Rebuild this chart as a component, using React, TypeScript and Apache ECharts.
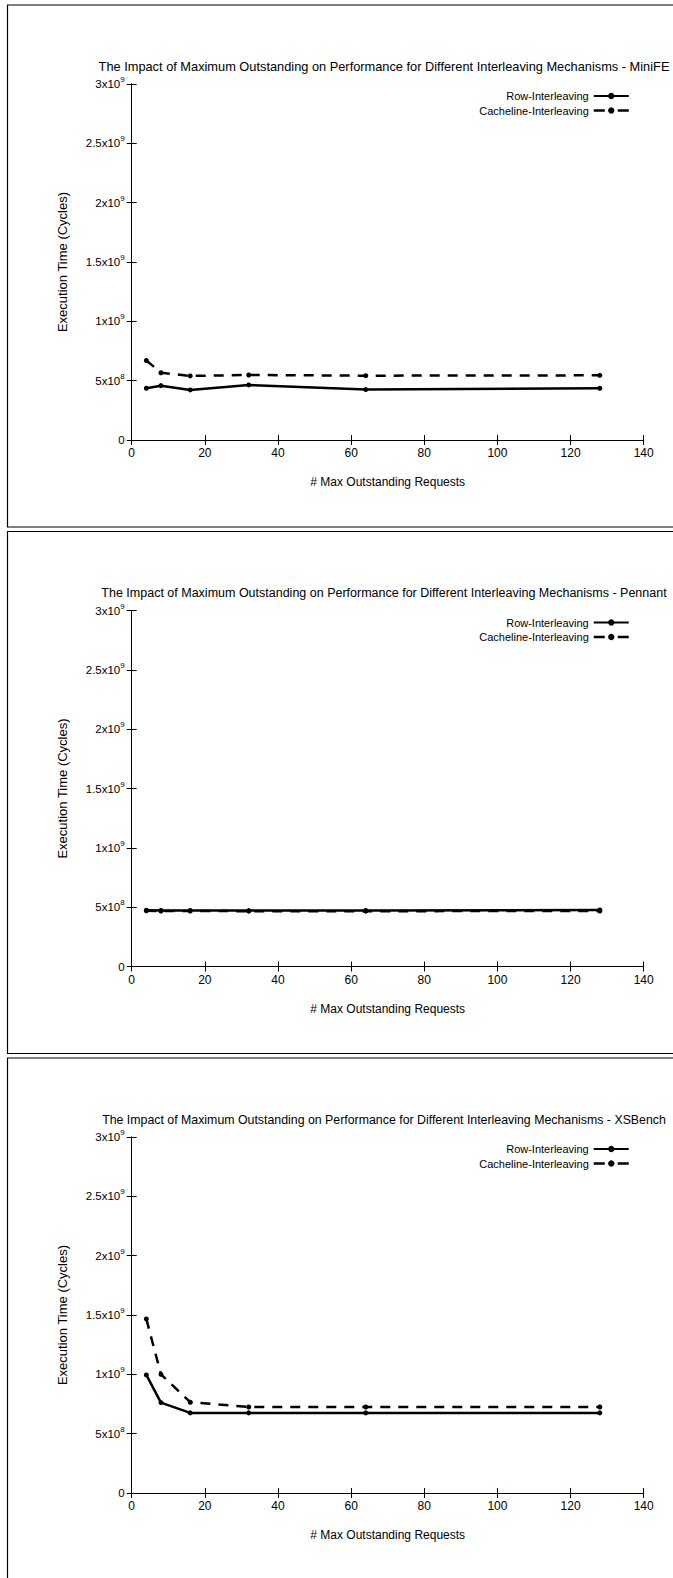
import React, { useEffect, useRef } from "react";
import * as echarts from "echarts";

const requests = [4, 8, 16, 32, 64, 128];
const xTicks = [0, 20, 40, 60, 80, 100, 120, 140];
const yTickLabels = ["0", "5x10{s|8}", "1x10{s|9}", "1.5x10{s|9}", "2x10{s|9}", "2.5x10{s|9}", "3x10{s|9}"];
const seriesNames = ["Row-Interleaving", "Cacheline-Interleaving"];
const panelNames = ["MiniFE", "Pennant", "XSBench"];

const miniFERow = [4.36e8, 4.58e8, 4.22e8, 4.64e8, 4.25e8, 4.36e8];
const miniFECache = [6.7e8, 5.67e8, 5.4e8, 5.48e8, 5.42e8, 5.45e8];
const pennantRow = [4.74e8, 4.72e8, 4.72e8, 4.71e8, 4.72e8, 4.76e8];
const pennantCache = [4.7e8, 4.68e8, 4.68e8, 4.66e8, 4.66e8, 4.68e8];
const xsbenchRow = [9.95e8, 7.62e8, 6.75e8, 6.75e8, 6.75e8, 6.75e8];
const xsbenchCache = [14.67e8, 10.0e8, 7.65e8, 7.25e8, 7.25e8, 7.25e8];

const panelData = [
  [miniFERow, miniFECache],
  [pennantRow, pennantCache],
  [xsbenchRow, xsbenchCache],
];

const W = 673;
const H = 1578;
const OFFSETS = [0, 526.5, 1053];
const TITLE_SIZES = [12.8, 12.5, 12.35];
const FONT = "Liberation Sans, Arial, sans-serif";

export default function App() {
  const ref = useRef<HTMLDivElement>(null);
  useEffect(() => {
    if (!ref.current) return;
    const chart = echarts.init(ref.current, null, { renderer: "svg" });
    const grids: any[] = [];
    const xAxes: any[] = [];
    const yAxes: any[] = [];
    const series: any[] = [];
    const legends: any[] = [];
    const graphics: any[] = [];
    const axisLine = { show: true, lineStyle: { color: "#000", width: 1 } };
    const tick = { show: true, inside: true, length: 5, lineStyle: { color: "#000", width: 1 } };

    OFFSETS.forEach((o, k) => {
      grids.push({ left: 131.7, width: 512, top: 84 + o, height: 356, containLabel: false });
      xAxes.push({
        type: "value", gridIndex: k, position: "bottom", min: 0, max: 140, interval: 20,
        axisLine, axisTick: tick, splitLine: { show: false },
        axisLabel: { color: "#000", fontSize: 12, fontFamily: FONT, margin: 7,
          formatter: (v: number) => String(xTicks[Math.round(v / 20)]) },
        name: "# Max Outstanding Requests", nameLocation: "middle", nameGap: 36,
        nameTextStyle: { color: "#000", fontSize: 12, fontFamily: FONT },
      });
      xAxes.push({
        type: "value", gridIndex: k, position: "top", min: 0, max: 140, interval: 20,
        axisLine, axisTick: tick, splitLine: { show: false }, axisLabel: { show: false },
      });
      yAxes.push({
        type: "value", gridIndex: k, position: "left", min: 0, max: 3e9, interval: 5e8,
        axisLine, axisTick: tick, splitLine: { show: false },
        axisLabel: {
          color: "#000", fontSize: 11.5, fontFamily: FONT, margin: 7,
          formatter: (v: number) => yTickLabels[Math.round(v / 5e8)],
          rich: { s: { fontSize: 8, fontFamily: FONT, color: "#000", padding: [0, 0, 9, 0] } },
        },
        name: "Execution Time (Cycles)", nameLocation: "middle", nameGap: 63,
        nameTextStyle: { color: "#000", fontSize: 13, fontFamily: FONT },
      });
      yAxes.push({
        type: "value", gridIndex: k, position: "right", min: 0, max: 3e9, interval: 5e8,
        axisLine, axisTick: tick, splitLine: { show: false }, axisLabel: { show: false },
      });
      const [row, cache] = panelData[k];
      [row, cache].forEach((vals, j) => {
        series.push({
          type: "line", name: seriesNames[j], xAxisIndex: 2 * k, yAxisIndex: 2 * k,
          data: requests.map((x, i) => [x, vals[i]]),
          symbol: "circle", symbolSize: 5, showSymbol: true,
          itemStyle: { color: "#000" },
          lineStyle: { color: "#000", width: 2.5, type: j === 0 ? "solid" : [10, 8] },
          z: j === 0 ? 3 : 2,
        });
      });
      legends.push({
        data: [
          { name: seriesNames[0] },
          { name: seriesNames[1], lineStyle: { type: [11, 13], width: 2.5, color: "#000" } },
        ],
        orient: "vertical", right: 43, top: 90.5 + o, align: "right",
        itemWidth: 35, itemHeight: 8, itemGap: 3.6, padding: 0, selectedMode: false,
        textStyle: { color: "#000", fontSize: 11, fontFamily: FONT },
      });
      graphics.push({
        type: "rect", shape: { x: 7.5, y: 5 + o, width: 700, height: 522 },
        style: { fill: "none", stroke: "#000", lineWidth: 1.2 }, silent: true,
      });
      graphics.push({
        type: "text", x: 384, y: 66.5 + o,
        style: {
          text: "The Impact of Maximum Outstanding on Performance for Different Interleaving Mechanisms - " + panelNames[k],
          textAlign: "center", textVerticalAlign: "middle", fill: "#000", fontSize: TITLE_SIZES[k], fontFamily: FONT,
        },
      });
    });

    chart.setOption({
      animation: false,
      backgroundColor: "#fff",
      grid: grids, xAxis: xAxes, yAxis: yAxes, series, legend: legends, graphic: graphics,
    });
    return () => chart.dispose();
  }, []);
  return <div ref={ref} style={{ position: "absolute", left: 0, top: 0, width: W, height: H }} />;
}
